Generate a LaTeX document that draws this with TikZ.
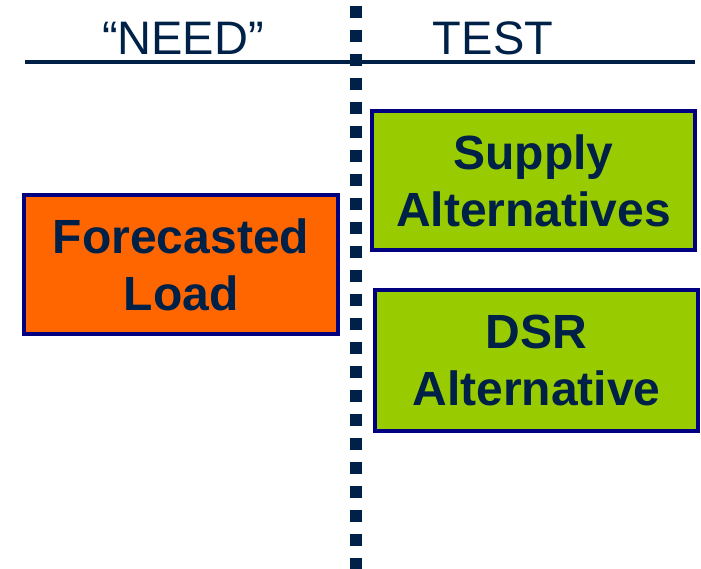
\documentclass[tikz,border=0pt]{standalone}
\usepackage{fontspec}
\setmainfont{Liberation Sans}
\usepackage{xcolor}
\usetikzlibrary{positioning}
\definecolor{navytext}{HTML}{002147}
\definecolor{boxline}{HTML}{000080}
\definecolor{loadorange}{HTML}{FF6600}
\definecolor{altgreen}{HTML}{99CC00}

\begin{document}
\begin{tikzpicture}[x=1pt, y=-1pt,
  head/.style={anchor=base, text=navytext, font=\fontsize{47}{56}\selectfont, inner sep=0pt},
  altbox/.style={draw=boxline, line width=4pt, text=navytext, align=center,
                 font=\fontsize{48}{57}\selectfont\bfseries, inner sep=0pt}]
  \useasboundingbox (0,0) rectangle (701,569);
  % header row
  \node (need) [head] at (183,55) {“NEED”};
  \node (test) [head] at (493,55) {TEST};
  \coordinate (ruleL) at (25,62);
  \coordinate (ruleR) at (695,62);
  \draw[navytext, line width=4pt] (ruleL) -- (ruleR);
  % divider
  \coordinate (divtop) at (356,0);
  \coordinate (divbot) at (356,569);
  \draw[navytext, line width=12pt, dash pattern=on 12pt off 12pt, dash phase=18pt] (divtop) -- (divbot);
  % boxes
  \node (load) [altbox, fill=loadorange, minimum width=314pt, minimum height=139pt]
    at (181,264.5) {Forecasted\\Load};
  \node (supply) [altbox, fill=altgreen, minimum width=323pt, minimum height=139pt]
    at (533.5,181) {Supply\\Alternatives};
  \node (dsr) [altbox, fill=altgreen, minimum width=323pt, minimum height=141pt]
    at (536.5,360) {DSR\\Alternative};
\end{tikzpicture}
\end{document}
